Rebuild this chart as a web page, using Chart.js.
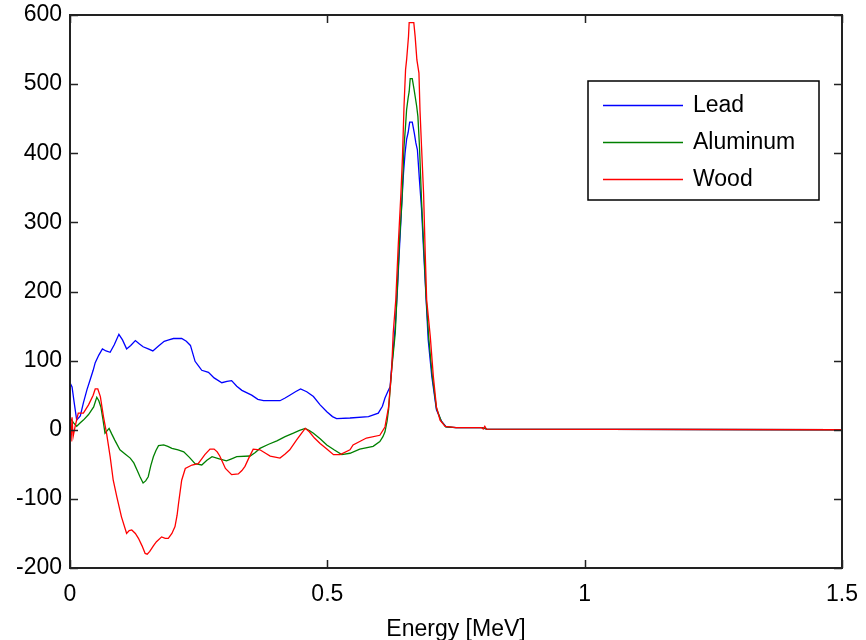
<!DOCTYPE html>
<html>
<head>
<meta charset="utf-8">
<script src="https://cdn.jsdelivr.net/npm/chart.js@4.4.1/dist/chart.umd.min.js"></script>
<style>
    body { margin: 0; background: #fff; }
    canvas { display: block; }
</style>
</head>
<body>
<canvas id="spectrumChart" width="866" height="640"></canvas>
<script>
// energy axis values [MeV] and counts
const leadEnergy = [0, 0.004, 0.008, 0.013, 0.02, 0.026, 0.033, 0.039, 0.045, 0.049, 0.056, 0.063, 0.07, 0.078, 0.086, 0.095, 0.102, 0.11, 0.118, 0.127, 0.135, 0.142, 0.152, 0.161, 0.172, 0.183, 0.192, 0.201, 0.217, 0.226, 0.234, 0.243, 0.25, 0.256, 0.269, 0.28, 0.295, 0.305, 0.314, 0.324, 0.334, 0.353, 0.365, 0.376, 0.408, 0.418, 0.427, 0.438, 0.448, 0.46, 0.473, 0.486, 0.499, 0.51, 0.518, 0.544, 0.58, 0.599, 0.607, 0.612, 0.618, 0.622, 0.625, 0.628, 0.632, 0.636, 0.64, 0.645, 0.648, 0.651, 0.654, 0.657, 0.66, 0.665, 0.669, 0.672, 0.675, 0.679, 0.683, 0.687, 0.692, 0.696, 0.703, 0.712, 0.722, 0.731, 0.75, 0.8, 0.81, 1.5];
const leadCounts = [68, 62, 40, 14, 20, 39, 58, 72, 86, 97, 108, 117, 114, 112, 123, 138, 130, 117, 122, 129, 124, 120, 117, 114, 121, 128, 130, 132, 132, 128, 122, 99, 92, 86, 83, 75, 68, 70, 71, 63, 57, 50, 44, 42, 42, 46, 50, 55, 59, 55, 48, 36, 26, 19, 16, 17, 19, 24, 34, 46, 56, 62, 91, 115, 150, 200, 260, 332, 371, 400, 420, 430, 445, 445, 429, 415, 405, 361, 320, 260, 188, 130, 77, 29, 12, 4, 3, 3, 1, 0];

const aluminumEnergy = [0, 0.007, 0.013, 0.02, 0.026, 0.036, 0.046, 0.052, 0.056, 0.06, 0.064, 0.068, 0.076, 0.081, 0.087, 0.097, 0.107, 0.117, 0.124, 0.13, 0.136, 0.142, 0.147, 0.152, 0.157, 0.162, 0.167, 0.172, 0.182, 0.19, 0.198, 0.21, 0.221, 0.232, 0.243, 0.256, 0.266, 0.276, 0.29, 0.304, 0.314, 0.324, 0.35, 0.36, 0.369, 0.386, 0.402, 0.418, 0.434, 0.446, 0.457, 0.465, 0.473, 0.486, 0.499, 0.513, 0.528, 0.544, 0.563, 0.589, 0.602, 0.608, 0.612, 0.616, 0.619, 0.625, 0.632, 0.635, 0.64, 0.645, 0.649, 0.652, 0.654, 0.657, 0.659, 0.661, 0.665, 0.6686, 0.6736, 0.676, 0.679, 0.683, 0.687, 0.692, 0.697, 0.704, 0.712, 0.721, 0.73, 0.75, 0.8, 0.81, 1.5];
const aluminumCounts = [17, 10, 5, 10, 14, 22, 33, 47, 42, 33, 15, -5, 2, -6, -15, -29, -35, -41, -48, -58, -68, -77, -74, -68, -52, -39, -30, -23, -22, -24, -27, -29, -32, -40, -49, -51, -44, -39, -42, -45, -42, -39, -38, -33, -27, -21, -16, -10, -5, -1, 2, -1, -5, -13, -22, -29, -36, -34, -28, -24, -17, -10, -3, 12, 29, 87, 140, 188, 270, 332, 410, 440, 463, 480, 489, 508, 508, 492, 468, 453, 410, 332, 270, 190, 133, 77, 31, 13, 4, 3, 3, 1, 0];

const woodEnergy = [0, 0.002, 0.004, 0.006, 0.01, 0.016, 0.026, 0.036, 0.045, 0.049, 0.054, 0.059, 0.065, 0.071, 0.078, 0.084, 0.091, 0.1, 0.11, 0.115, 0.12, 0.127, 0.133, 0.14, 0.146, 0.15, 0.155, 0.162, 0.168, 0.178, 0.185, 0.191, 0.198, 0.204, 0.208, 0.211, 0.217, 0.224, 0.237, 0.249, 0.256, 0.262, 0.272, 0.28, 0.286, 0.291, 0.302, 0.314, 0.327, 0.334, 0.34, 0.348, 0.356, 0.369, 0.38, 0.389, 0.408, 0.418, 0.427, 0.44, 0.449, 0.457, 0.465, 0.475, 0.486, 0.499, 0.512, 0.525, 0.544, 0.55, 0.576, 0.602, 0.612, 0.619, 0.625, 0.628, 0.633, 0.638, 0.643, 0.646, 0.649, 0.652, 0.654, 0.6577, 0.659, 0.668, 0.6706, 0.674, 0.678, 0.68, 0.683, 0.687, 0.69, 0.693, 0.7, 0.706, 0.712, 0.719, 0.729, 0.75, 0.8, 0.803, 0.806, 0.809, 1.5];
const woodCounts = [0, -17, 18, -10, 5, 24, 24, 36, 50, 59, 59, 48, 19, -5, -39, -73, -97, -126, -150, -146, -145, -150, -157, -168, -179, -180, -176, -168, -162, -155, -157, -157, -150, -140, -124, -106, -73, -56, -51, -49, -42, -36, -28, -28, -32, -38, -56, -65, -64, -59, -53, -40, -28, -29, -34, -38, -41, -35, -29, -15, -6, 2, -3, -12, -20, -28, -36, -36, -29, -22, -12, -8, 4, 33, 87, 140, 188, 270, 342, 395, 468, 521, 535, 569, 589, 589, 569, 535, 516, 463, 410, 342, 260, 188, 135, 77, 33, 14, 5, 3, 3, 1, 5, 1, 0];

const seriesNames = ["Lead", "Aluminum", "Wood"];
const seriesColors = ["#0000ff", "#008000", "#ff0000"];
const xTicks = [0, 0.5, 1, 1.5];
const yTicks = [-200, -100, 0, 100, 200, 300, 400, 500, 600];

const FONT = "Liberation Sans, Arial, sans-serif";

function toPoints(xs, ys) {
    return xs.map((x, i) => ({ x, y: ys[i] }));
}

// MATLAB style box with inward ticks plus a legend inside the axes
const matlabAxes = {
    id: "matlabAxes",
    afterDraw(chart) {
        const { ctx, chartArea } = chart;
        const { left, right, top, bottom } = chartArea;
        const xs = chart.scales.x;
        const ys = chart.scales.y;
        ctx.save();
        ctx.strokeStyle = "#222";
        ctx.lineWidth = 2;
        ctx.strokeRect(left, top, right - left, bottom - top);
        ctx.lineWidth = 1.5;
        ctx.beginPath();
        xTicks.forEach(v => {
            const px = Math.round(xs.getPixelForValue(v)) + 0.5;
            ctx.moveTo(px, bottom);
            ctx.lineTo(px, bottom - 8);
            ctx.moveTo(px, top);
            ctx.lineTo(px, top + 8);
        });
        yTicks.forEach(v => {
            const py = Math.round(ys.getPixelForValue(v)) + 0.5;
            ctx.moveTo(left, py);
            ctx.lineTo(left + 8, py);
            ctx.moveTo(right, py);
            ctx.lineTo(right - 8, py);
        });
        ctx.stroke();

        // legend
        const box = { x: 588, y: 81, w: 231, h: 119 };
        ctx.fillStyle = "#fff";
        ctx.fillRect(box.x, box.y, box.w, box.h);
        ctx.strokeStyle = "#000";
        ctx.lineWidth = 1.5;
        ctx.strokeRect(box.x, box.y, box.w, box.h);
        ctx.font = "23px " + FONT;
        ctx.textBaseline = "middle";
        ctx.textAlign = "left";
        seriesNames.forEach((name, i) => {
            const rowY = box.y + 24 + i * 37;
            ctx.beginPath();
            ctx.strokeStyle = seriesColors[i];
            ctx.lineWidth = 1.3;
            ctx.moveTo(603, rowY + 0.5);
            ctx.lineTo(683, rowY + 0.5);
            ctx.stroke();
            ctx.fillStyle = "#000";
            ctx.fillText(name, 693, rowY + 1);
        });
        ctx.restore();
    }
};

new Chart(document.getElementById("spectrumChart"), {
    type: "line",
    data: {
        datasets: [
            {
                label: seriesNames[0],
                data: toPoints(leadEnergy, leadCounts),
                borderColor: seriesColors[0],
                order: 2
            },
            {
                label: seriesNames[1],
                data: toPoints(aluminumEnergy, aluminumCounts),
                borderColor: seriesColors[1],
                order: 1
            },
            {
                label: seriesNames[2],
                data: toPoints(woodEnergy, woodCounts),
                borderColor: seriesColors[2],
                order: 0
            }
        ]
    },
    options: {
        responsive: false,
        animation: false,
        devicePixelRatio: 1,
        layout: {
            padding: { top: 15, right: 24, left: 0, bottom: 0 }
        },
        elements: {
            point: { radius: 0 },
            line: { borderWidth: 1.3, tension: 0 }
        },
        plugins: {
            legend: { display: false },
            tooltip: { enabled: false }
        },
        scales: {
            x: {
                type: "linear",
                min: 0,
                max: 1.5,
                afterFit: s => {
                    s.height = 72;
                    s.paddingLeft = 0;
                    s.paddingRight = 0;
                },
                afterBuildTicks: s => { s.ticks = xTicks.map(v => ({ value: v })); },
                grid: { display: false, drawTicks: false },
                border: { display: false },
                ticks: {
                    color: "#000",
                    padding: 13,
                    maxRotation: 0,
                    font: { family: FONT, size: 23 },
                    callback: v => String(v)
                },
                title: {
                    display: true,
                    text: "Energy [MeV]",
                    color: "#000",
                    padding: { top: 0, bottom: -3 },
                    font: { family: FONT, size: 23 }
                }
            },
            y: {
                min: -200,
                max: 600,
                afterFit: s => {
                    s.width = 70;
                    s.paddingTop = 0;
                    s.paddingBottom = 0;
                },
                afterBuildTicks: s => { s.ticks = yTicks.map(v => ({ value: v })); },
                grid: { display: false, drawTicks: false },
                border: { display: false },
                ticks: {
                    color: "#000",
                    padding: 8,
                    font: { family: FONT, size: 23 },
                    callback: v => String(v)
                }
            }
        }
    },
    plugins: [matlabAxes]
});
</script>
</body>
</html>
